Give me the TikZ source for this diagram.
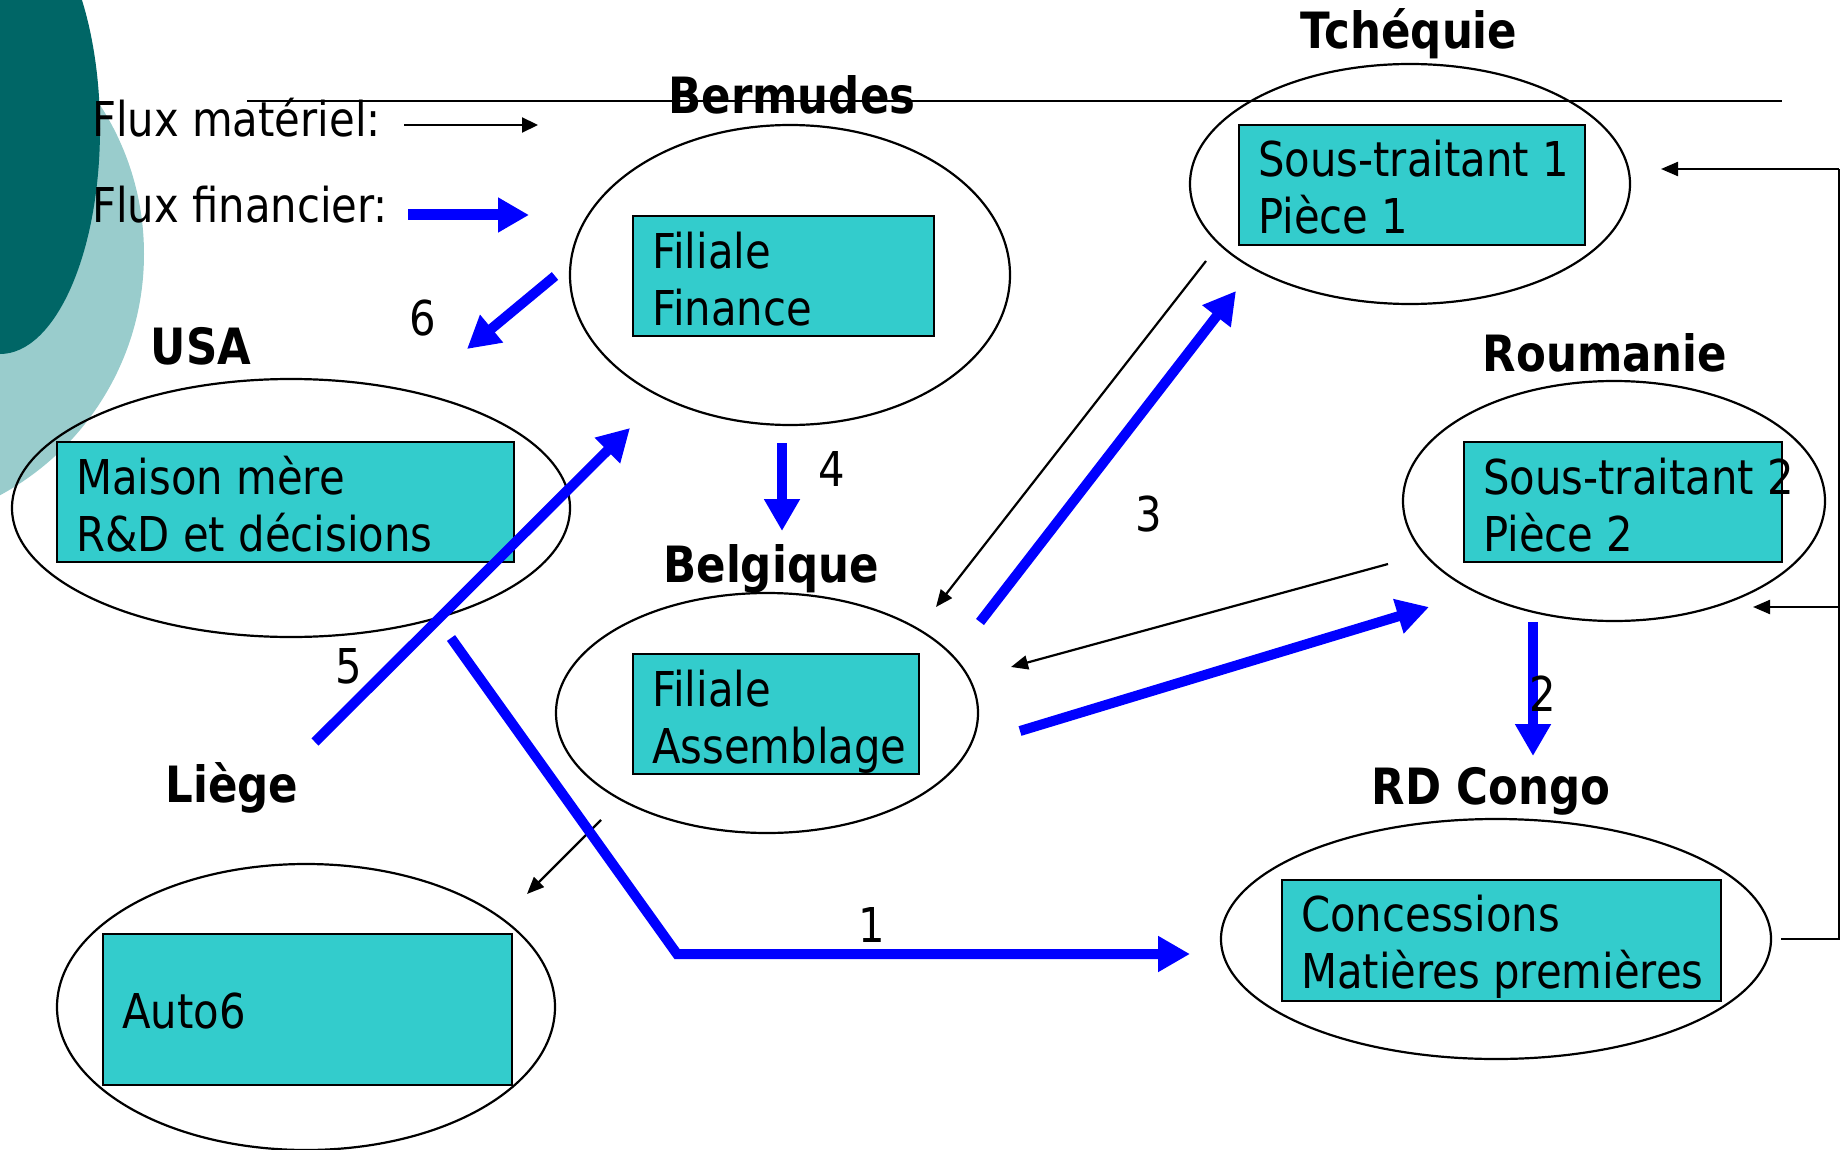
\documentclass[tikz,border=0pt]{standalone}
\usepackage{fontspec}
\setmainfont[FakeStretch=0.87]{DejaVu Sans}
\usetikzlibrary{shapes.geometric,arrows.meta}
\definecolor{darkteal}{RGB}{0,102,102}
\definecolor{lightteal}{RGB}{153,204,204}
\definecolor{boxcyan}{RGB}{51,204,204}
\definecolor{fblue}{RGB}{0,0,255}
\begin{document}
\begin{tikzpicture}[x=1pt,y=-1pt,
  region/.style={ellipse,draw=black,line width=2.2pt,inner sep=0pt},
  entity/.style={draw=black,line width=2.2pt,fill=boxcyan,inner sep=0pt,anchor=north west},
  boxtext/.style={anchor=north west,align=left,inner sep=0pt,font=\fontsize{48}{57}\selectfont},
  place/.style={anchor=base,inner sep=0pt,font=\fontsize{50}{57}\selectfont\bfseries},
  num/.style={anchor=base,inner sep=0pt,font=\fontsize{48}{57}\selectfont},
  legend/.style={anchor=base west,inner sep=0pt,font=\fontsize{48}{57}\selectfont},
  money/.style={draw=fblue,line width=10pt,-{Triangle[length=32pt,width=34pt]}},
  goods/.style={draw=black,line width=2.2pt,-{Triangle[length=17pt,width=14pt]}},
]
\useasboundingbox (0,0) rectangle (1841,1150);
\begin{scope}
  \clip (0,0) rectangle (1841,1150);
  \fill[lightteal] (-130,254) circle [radius=274];
  \fill[darkteal] (0,129) ellipse [x radius=100, y radius=225];
\end{scope}

% title rule
\coordinate (ruleL) at (247,101);
\coordinate (ruleR) at (1782,101);
\draw[line width=2.2pt] (ruleL) -- (ruleR);

% legend
\node[legend] (lgm) at (92,137) {Flux matériel:};
\node[legend] (lgf) at (92,223) {Flux financier:};
\coordinate (lgmA) at (404,125);
\coordinate (lgmB) at (538,125);
\coordinate (lgfA) at (408,215);
\coordinate (lgfB) at (529,215);
\draw[goods,-{Triangle[length=16pt,width=15pt]}] (lgmA) -- (lgmB);
\draw[draw=fblue,line width=11pt,-{Triangle[length=31pt,width=33pt]}] (lgfA) -- (lgfB);

% regions
\node[region,minimum width=440pt,minimum height=300pt] (eBer) at (790,275) {};
\node[region,minimum width=440pt,minimum height=240pt] (eTch) at (1410,184) {};
\node[region,minimum width=558pt,minimum height=258pt] (eUSA) at (291,508) {};
\node[region,minimum width=422pt,minimum height=240pt] (eRou) at (1614,501) {};
\node[region,minimum width=422pt,minimum height=240pt] (eBel) at (767,713) {};
\node[region,minimum width=550pt,minimum height=240pt] (eRDC) at (1496,939) {};
\node[region,minimum width=498pt,minimum height=286pt] (eLie) at (306,1007) {};

% place names
\node[place] (tBer) at (792,114) {Bermudes};
\node[place] (tTch) at (1409,49) {Tchéquie};
\node[place] (tUSA) at (201,364) {USA};
\node[place] (tRou) at (1605,371) {Roumanie};
\node[place] (tBel) at (771,582) {Belgique};
\node[place] (tRDC) at (1491,804) {RD Congo};
\node[place] (tLie) at (232,802) {Liège};

% boxes
\node[entity,minimum width=301pt,minimum height=120pt] (bFin) at (632,215) {};
\node[entity,minimum width=346pt,minimum height=120pt] (bST1) at (1238,124) {};
\node[entity,minimum width=457pt,minimum height=120pt] (bMM) at (56,441) {};
\node[entity,minimum width=318pt,minimum height=120pt] (bST2) at (1463,441) {};
\node[entity,minimum width=286pt,minimum height=120pt] (bAss) at (632,653) {};
\node[entity,minimum width=439pt,minimum height=121pt] (bCon) at (1281,879) {};
\node[entity,minimum width=409pt,minimum height=151pt] (bAuto) at (102,933) {};

\node[boxtext] (xFin) at ([shift={(20,13)}]bFin.north west) {\strut Filiale\\\strut Finance};
\node[boxtext] (xST1) at ([shift={(20,12)}]bST1.north west) {\strut Sous-traitant 1\\\strut Pièce 1};
\node[boxtext] (xMM) at ([shift={(20,13)}]bMM.north west) {\strut Maison mère\\\strut R\&D et décisions};
\node[boxtext] (xST2) at ([shift={(20,13)}]bST2.north west) {\strut Sous-traitant 2\\\strut Pièce 2};
\node[boxtext] (xAss) at ([shift={(20,13)}]bAss.north west) {\strut Filiale\\\strut Assemblage};
\node[boxtext] (xCon) at ([shift={(20,12)}]bCon.north west) {\strut Concessions\\\strut Matières premières};
\node[boxtext] (xAuto) at ([shift={(20,55)}]bAuto.north west) {\strut Auto6};

% connector end points
\coordinate (m1a) at (1206,261);  \coordinate (m1b) at (936,607);
\coordinate (m2a) at (1388,564);  \coordinate (m2b) at (1011,667);
\coordinate (m3a) at (601,820);   \coordinate (m3b) at (527,894);
\coordinate (fbA) at (1781,939);  \coordinate (fbB) at (1839,939);
\coordinate (fbC) at (1839,169);  \coordinate (fbD) at (1661,169);
\coordinate (fbE) at (1839,607);  \coordinate (fbF) at (1753,607);

\coordinate (f6a) at (555,276);   \coordinate (f6b) at (467,349);
\coordinate (f4a) at (782,443);   \coordinate (f4b) at (782,531);
\coordinate (f5a) at (315,742);   \coordinate (f5b) at (630,428);
\coordinate (f3a) at (980,622);   \coordinate (f3b) at (1236,291);
\coordinate (fBRa) at (1020,731); \coordinate (fBRb) at (1429,607);
\coordinate (f2a) at (1533,622);  \coordinate (f2b) at (1533,756);
\coordinate (f1a) at (451,638);   \coordinate (f1m) at (677,954);
\coordinate (f1b) at (1190,954);

% material flows
\draw[goods] (m1a) -- (m1b);
\draw[goods] (m2a) -- (m2b);
\draw[goods] (m3a) -- (m3b);
\draw[line width=2.2pt] (fbA) -- (fbB) -- (fbC);
\draw[goods] (fbC) -- (fbD);
\draw[goods] (fbE) -- (fbF);

% financial flows
\draw[money] (f6a) -- (f6b);
\draw[money] (f4a) -- (f4b);
\draw[money] (f5a) -- (f5b);
\draw[money] (f3a) -- (f3b);
\draw[money] (fBRa) -- (fBRb);
\draw[money] (f2a) -- (f2b);
\draw[money] (f1a) -- (f1m) -- (f1b);

% numbers
\node[num] (n6) at (423,335) {6};
\node[num] (n4) at (832,486) {4};
\node[num] (n3) at (1149,531) {3};
\node[num] (n5) at (349,683) {5};
\node[num] (n2) at (1543,711) {2};
\node[num] (n1) at (872,942) {1};
\end{tikzpicture}
\end{document}
